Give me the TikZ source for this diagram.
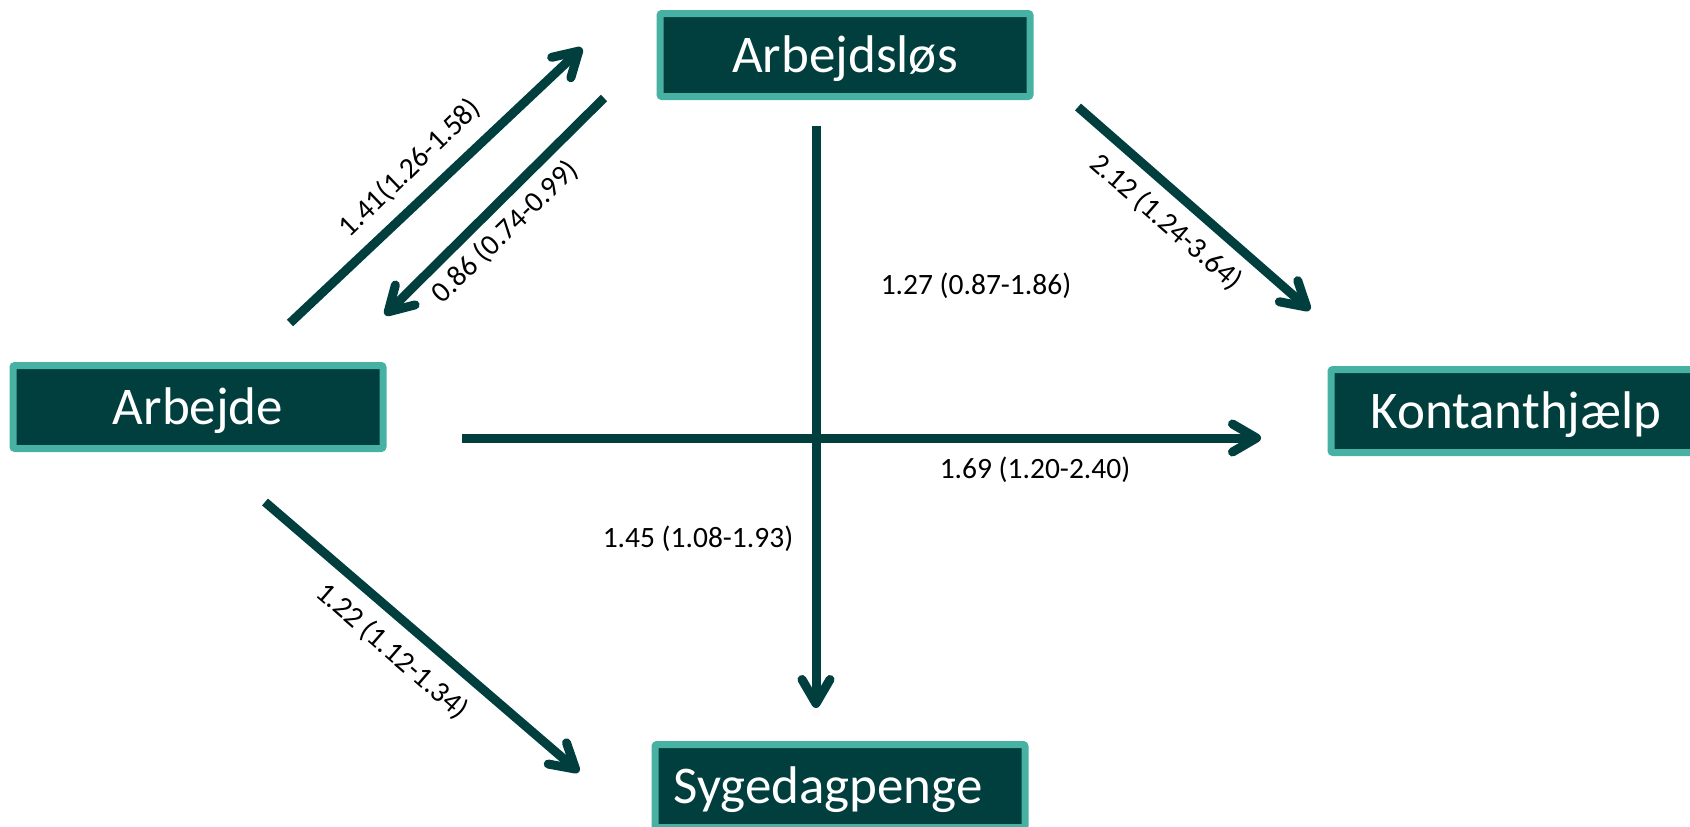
\documentclass[tikz,border=0pt]{standalone}
\usepackage{fontspec}
\setmainfont{Carlito}
\usetikzlibrary{arrows.meta}
\definecolor{darkteal}{HTML}{013F3F}
\definecolor{lightteal}{HTML}{47B1A3}
\begin{document}
\begin{tikzpicture}[x=1pt,y=-1pt,
  statebox/.style={draw=lightteal, line width=7pt, fill=darkteal, text=white,
    font=\fontsize{53}{60}\selectfont, minimum width=370pt, minimum height=83pt,
    inner sep=0pt, text height=34pt, text depth=0pt, rounded corners=2pt},
  flow/.style={draw=darkteal, line width=9pt, -{Straight Barb[length=24pt,width=28pt,round]}},
  lab/.style={font=\fontsize{29.5}{34}\selectfont, text=black, inner sep=0pt}]
\useasboundingbox (0,0) rectangle (1690,827);
\node[statebox] (arbl) at (845,55) {Arbejdsløs};
\node[statebox] (arb) at (198,407) {Arbejde};
\node[statebox] (kont) at (1516,411) {Kontanthjælp};
\node[statebox] (syg) at (840,786) {Sygedagpenge\hspace*{24pt}};
% arrow end points
\coordinate (a1s) at (290,323); \coordinate (a1e) at (582,48);
\coordinate (a2s) at (604,98);  \coordinate (a2e) at (385,315);
\coordinate (a3s) at (816,126); \coordinate (a3e) at (816,708);
\coordinate (a4s) at (462,438); \coordinate (a4e) at (1261,438);
\coordinate (a5s) at (1078,107); \coordinate (a5e) at (1310,310);
\coordinate (a6s) at (265,502); \coordinate (a6e) at (579,772);
\draw[flow] (a1s) -- (a1e);
\draw[flow] (a2s) -- (a2e);
\draw[flow] (a4s) -- (a4e);
\draw[flow] (a3s) -- (a3e);
\draw[flow] (a5s) -- (a5e);
\draw[flow] (a6s) -- (a6e);
\node[lab, rotate=44] (l1) at (410,168) {1.41(1.26-1.58)};
\node[lab, rotate=44] (l2) at (505,232) {0.86 (0.74-0.99)};
\node[lab, rotate=-41] (l3) at (1166,222) {2.12 (1.24-3.64)};
\node[lab, rotate=-41] (l4) at (392,651) {1.22 (1.12-1.34)};
\node[lab] (l5) at (976,286) {1.27 (0.87-1.86)};
\node[lab] (l6) at (1035,470) {1.69 (1.20-2.40)};
\node[lab] (l7) at (698,539) {1.45 (1.08-1.93)};
\end{tikzpicture}
\end{document}
